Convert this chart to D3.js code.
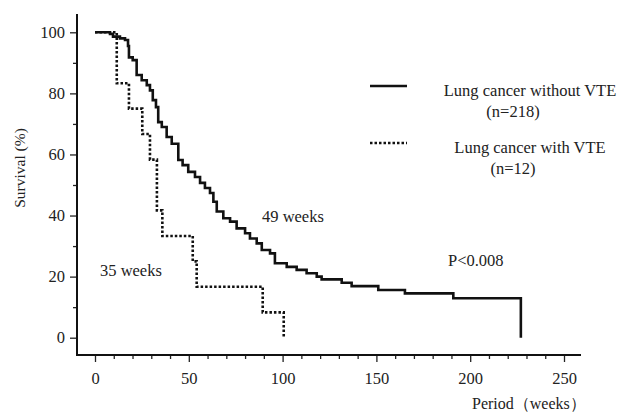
<!DOCTYPE html>
<html>
<head>
<meta charset="utf-8">
<script src="https://cdn.jsdelivr.net/npm/d3@7"></script>
<style>
  body { margin: 0; background: #fff; }
  text { font-family: "Liberation Serif", "Times New Roman", serif; fill: #222; }
</style>
</head>
<body>
<div id="chart"></div>
<script>
// Kaplan-Meier steps (week of event, survival % after it)
const withoutWeeks = [0, 8.0, 9.6, 13.3, 16.0, 17.6, 18.1, 20.1, 22.2, 24.9, 27.6, 29.3, 30.8, 32.5, 33.7, 35.6,
    38.2, 40.9, 44.4, 46.7, 49.7, 53.3, 56.0, 58.6, 61.3, 63.1, 64.9, 68.4, 72.0, 75.5, 80.0, 82.6, 86.2,
    88.9, 93.3, 95.9, 102.2, 107.5, 112.8, 118.2, 120.8, 131.5, 136.8, 151.0, 165.2, 191.0, 227.0];
const withoutSurv = [100, 99.5, 98.6, 98, 97.5, 95.5, 91.8, 90.9, 86, 84.3, 82.7, 81, 77.8, 75.5, 70.6, 69,
    65.7, 63.5, 58.2, 56.5, 54.3, 52.6, 50.7, 49, 47.4, 44.5, 41.3, 39.1, 38, 35.8, 34.2, 32.5, 30.9,
    28.7, 27.6, 24.4, 23.2, 22.2, 21.1, 20, 19.1, 18, 16.9, 15.6, 14.5, 12.9, 0];

const withWeeks = [0, 11.6, 18.1, 25.2, 29.3, 33.0, 35.9, 52.1, 54.2, 89.4, 100.6];
const withSurv = [100, 83.3, 75, 66.7, 58.3, 41.7, 33.3, 25, 16.7, 8.3, 0];

const xTicks = [0, 50, 100, 150, 200, 250];
const yTicks = [0, 20, 40, 60, 80, 100];

const legendLabels = [
    ["Lung cancer without VTE", "(n=218)"],
    ["Lung cancer with VTE", "(n=12)"]
];

const W = 619, H = 412;

const svg = d3.select("#chart").append("svg")
    .attr("width", W).attr("height", H);

const x = d3.scaleLinear().domain([0, 250]).range([95, 564]);
const y = d3.scaleLinear().domain([0, 100]).range([337.7, 32.3]);

const axisLeftX = 77, axisBottomY = 355;

// --- y axis ---
const yAxis = svg.append("g")
    .attr("transform", `translate(${axisLeftX},0)`)
    .call(d3.axisLeft(y).tickValues(d3.range(0, 101, 10))
        .tickSize(7).tickPadding(5)
        .tickFormat(d => yTicks.includes(d) ? d : ""));
yAxis.select(".domain").remove();
yAxis.selectAll(".tick line")
    .attr("stroke", "#222").attr("stroke-width", 1.3)
    .attr("x2", d => yTicks.includes(d) ? -7 : -4);
yAxis.selectAll(".tick text")
    .style("font-family", "Liberation Serif, serif")
    .style("font-size", "16.5px").attr("fill", "#222");

// --- x axis ---
const xAxis = svg.append("g")
    .attr("transform", `translate(0,${axisBottomY})`)
    .call(d3.axisBottom(x).tickValues(d3.range(0, 251, 10))
        .tickSize(7).tickPadding(10)
        .tickFormat(d => xTicks.includes(d) ? d : ""));
xAxis.select(".domain").remove();
xAxis.selectAll(".tick line")
    .attr("stroke", "#222").attr("stroke-width", 1.3)
    .attr("y2", d => xTicks.includes(d) ? 7 : 4);
xAxis.selectAll(".tick text")
    .style("font-family", "Liberation Serif, serif")
    .style("font-size", "16.5px").attr("fill", "#222");

// axis lines
svg.append("line")
    .attr("x1", axisLeftX).attr("x2", axisLeftX)
    .attr("y1", 14).attr("y2", axisBottomY + 1)
    .attr("stroke", "#111").attr("stroke-width", 2);
svg.append("line")
    .attr("x1", axisLeftX - 1).attr("x2", 581)
    .attr("y1", axisBottomY).attr("y2", axisBottomY)
    .attr("stroke", "#111").attr("stroke-width", 2);

// axis titles
svg.append("text")
    .attr("transform", `translate(25,168) rotate(-90)`)
    .attr("text-anchor", "middle")
    .style("font-size", "15.5px")
    .text("Survival (%)");
svg.append("text")
    .attr("x", 472).attr("y", 409)
    .style("font-size", "16px")
    .text("Period\uFF08weeks\uFF09");

// --- survival curves ---
const step = d3.line()
    .x(d => x(d[0]))
    .y(d => y(d[1]))
    .curve(d3.curveStepAfter);

const withoutData = withoutWeeks.map((w, i) => [w, withoutSurv[i]]);
const withData = withWeeks.map((w, i) => [w, withSurv[i]]);

svg.append("path")
    .datum(withData)
    .attr("d", step)
    .attr("fill", "none")
    .attr("stroke", "#111")
    .attr("stroke-width", 2.6)
    .attr("stroke-dasharray", "2.5,2");

svg.append("path")
    .datum(withoutData)
    .attr("d", step)
    .attr("fill", "none")
    .attr("stroke", "#111")
    .attr("stroke-width", 2.6);

// --- annotations ---
svg.append("text").attr("x", 262).attr("y", 222).style("font-size", "16.5px").text("49 weeks");
svg.append("text").attr("x", 100).attr("y", 276).style("font-size", "16.5px").text("35 weeks");
svg.append("text").attr("x", 448).attr("y", 266).style("font-size", "16.5px").text("P<0.008");

// --- legend ---
const legendY = [86, 143];
const legend = svg.append("g");
legendLabels.forEach((lab, i) => {
    legend.append("line")
        .attr("x1", 370).attr("x2", 407)
        .attr("y1", legendY[i]).attr("y2", legendY[i])
        .attr("stroke", "#111").attr("stroke-width", 2.6)
        .attr("stroke-dasharray", i === 1 ? "2.5,2" : null);
    legend.append("text")
        .attr("x", 530).attr("y", legendY[i] + 10)
        .attr("text-anchor", "middle")
        .style("font-size", "16.5px")
        .text(lab[0]);
    legend.append("text")
        .attr("x", 513).attr("y", legendY[i] + 31)
        .attr("text-anchor", "middle")
        .style("font-size", "16.5px")
        .text(lab[1]);
});
</script>
</body>
</html>
